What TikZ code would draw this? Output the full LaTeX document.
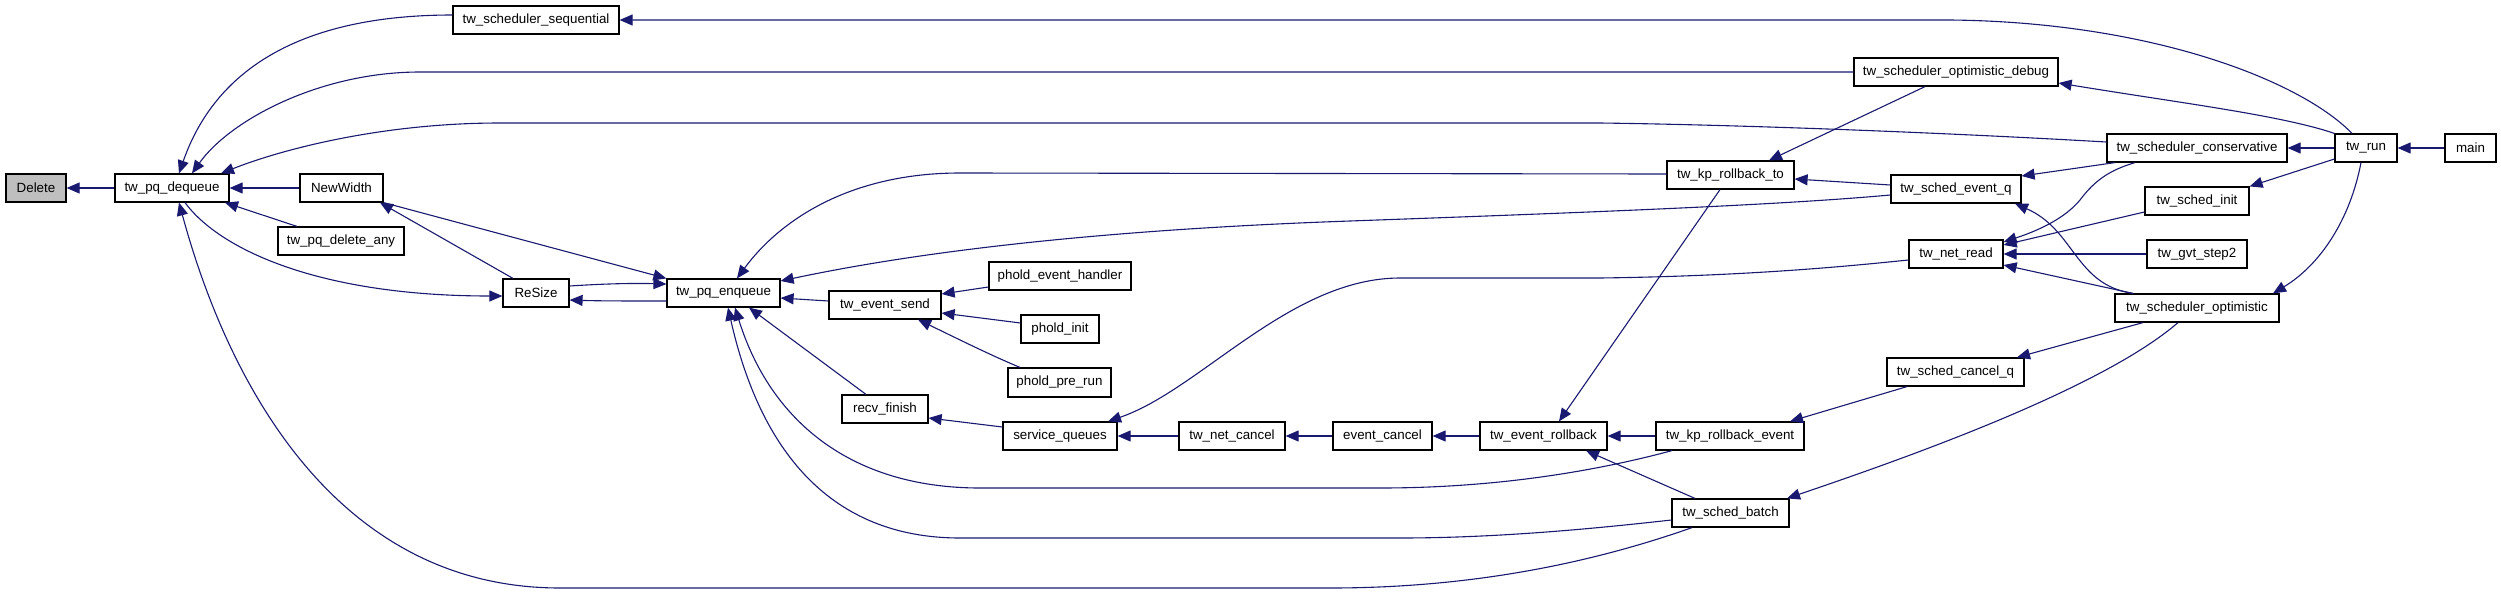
\documentclass[tikz,border=0pt]{standalone}
\usepackage{fontspec}
\setmainfont{Liberation Sans}
\usetikzlibrary{arrows.meta}
\definecolor{mblue}{HTML}{191970}
\definecolor{nodegray}{HTML}{BFBFBF}
\newcommand\fnode[6]{\node[gbox, minimum width={(#4-#2)*0.5pt}, minimum height={(#5-#3)*0.5pt}] (#1) at ({(#2+#4)/2},{(#3+#5)/2}) {#6};}
\begin{document}
\begin{tikzpicture}[x=0.5pt, y=-0.5pt,
  gbox/.style={draw=black, line width=0.6pt, fill=white, inner sep=0pt, font=\fontsize{6.67pt}{8pt}\selectfont},
  ed/.style={draw=mblue, line width=0.55pt, {Triangle[length=6.5pt,width=5.5pt]}-}]
\useasboundingbox (0,0) rectangle (2501,595);
% nodes
\fnode{del}{6}{174}{66}{202}{Delete}
\node[gbox, fill=nodegray, minimum width=30pt, minimum height=14pt] at (del) {Delete};
\fnode{dq}{115}{174}{229}{202}{tw\_pq\_dequeue}
\fnode{nw}{300}{174}{383}{202}{NewWidth}
\fnode{pda}{278}{227}{404}{255}{tw\_pq\_delete\_any}
\fnode{seq}{453}{6}{619}{34}{tw\_scheduler\_sequential}
\fnode{rs}{503}{279}{569}{307}{ReSize}
\fnode{enq}{667}{279}{780}{307}{tw\_pq\_enqueue}
\fnode{peh}{989}{262}{1131}{290}{phold\_event\_handler}
\fnode{es}{829}{291}{941}{319}{tw\_event\_send}
\fnode{pi}{1021}{315}{1099}{343}{phold\_init}
\fnode{ppr}{1008}{368}{1111}{397}{phold\_pre\_run}
\fnode{rf}{842}{395}{928}{423}{recv\_finish}
\fnode{sq}{1003}{422}{1117}{450}{service\_queues}
\fnode{nc}{1179}{422}{1285}{450}{tw\_net\_cancel}
\fnode{ec}{1333}{422}{1432}{450}{event\_cancel}
\fnode{er}{1480}{422}{1607}{450}{tw\_event\_rollback}
\fnode{kre}{1656}{422}{1804}{450}{tw\_kp\_rollback\_event}
\fnode{sb}{1672}{499}{1789}{527}{tw\_sched\_batch}
\fnode{scq}{1887}{358}{2024}{386}{tw\_sched\_cancel\_q}
\fnode{dbg}{1854}{58}{2058}{86}{tw\_scheduler\_optimistic\_debug}
\fnode{krt}{1667}{161}{1794}{189}{tw\_kp\_rollback\_to}
\fnode{evq}{1891}{175}{2021}{203}{tw\_sched\_event\_q}
\fnode{nr}{1909}{240}{2003}{268}{tw\_net\_read}
\fnode{cons}{2107}{134}{2287}{162}{tw\_scheduler\_conservative}
\fnode{run}{2335}{134}{2397}{162}{tw\_run}
\fnode{mn}{2445}{134}{2496}{162}{main}
\fnode{si}{2145}{187}{2249}{215}{tw\_sched\_init}
\fnode{gvt}{2147}{240}{2247}{268}{tw\_gvt\_step2}
\fnode{opt}{2115}{294}{2279}{322}{tw\_scheduler\_optimistic}
% edges
\draw[ed] (del.east) -- (dq.west);
\draw[ed] (dq.north -| 179,0) .. controls (215,70) and (300,15) .. (seq.west |- 0,15);
\draw[ed] (dq.north -| 192,0) .. controls (230,120) and (320,72) .. (420,72) -- (dbg.west);
\draw[ed] (dq.north -| 221,0) .. controls (280,150) and (380,123) .. (500,123) -- (1600,123) .. controls (1750,125) and (1950,133) .. (cons.west |- 0,142);
\draw[ed] (dq.east) -- (nw.west);
\draw[ed] (dq.south -| 225,0) -- (pda.north -| 297,0);
\draw[ed] (dq.south -| 179,0) .. controls (230,390) and (340,588) .. (560,588) -- (1330,588) .. controls (1480,588) and (1600,560) .. (sb.south -| 1692,0);
\draw[ed] (rs.west |- 0,296) .. controls (320,296) and (220,250) .. (dq.south -| 185,0);
\draw[ed] (nw.south -| 380,0) -- (rs.north -| 513,0);
\draw[ed] (enq.north west) -- (nw.south east);
\draw[ed] (enq.west |- 0,284) .. controls (630,283) and (600,284) .. (rs.east |- 0,286);
\draw[ed] (rs.east |- 0,300) .. controls (600,301) and (630,301) .. (enq.west |- 0,301);
\draw[ed] (enq.north -| 737,0) .. controls (780,220) and (850,173) .. (960,173) -- (krt.west |- 0,174);
\draw[ed] (enq.east |- 0,281) .. controls (950,245) and (1150,228) .. (1350,221) .. controls (1600,212) and (1780,205) .. (evq.west |- 0,195);
\draw[ed] (enq.east |- 0,298) -- (es.west |- 0,301);
\draw[ed] (enq.south -| 749,0) -- (rf.north -| 866,0);
\draw[ed] (enq.south -| 735,0) .. controls (770,420) and (850,488) .. (980,488) -- (1380,488) .. controls (1500,488) and (1600,470) .. (kre.south -| 1672,0);
\draw[ed] (enq.south -| 728,0) .. controls (760,450) and (830,538) .. (960,538) -- (1400,538) .. controls (1500,538) and (1600,528) .. (sb.west |- 0,520);
\draw[ed] (es.east |- 0,294) -- (peh.west |- 0,287);
\draw[ed] (es.east |- 0,313) -- (pi.west |- 0,323);
\draw[ed] (es.south -| 918,0) .. controls (950,335) and (990,355) .. (ppr.north -| 1020,0);
\draw[ed] (rf.east |- 0,418) -- (sq.west |- 0,427);
\draw[ed] (sq.east) -- (nc.west);
\draw[ed] (sq.north -| 1108,0) .. controls (1200,390) and (1290,278) .. (1400,278) -- (1600,278) .. controls (1750,276) and (1850,266) .. (nr.west |- 0,260);
\draw[ed] (nc.east) -- (ec.west);
\draw[ed] (ec.east) -- (er.west);
\draw[ed] (er.north -| 1559,0) -- (krt.south -| 1720,0);
\draw[ed] (er.east) -- (kre.west);
\draw[ed] (er.south -| 1586,0) -- (sb.north -| 1695,0);
\draw[ed] (krt.north -| 1769,0) -- (dbg.south -| 1925,0);
\draw[ed] (krt.east |- 0,179) -- (evq.west |- 0,185);
\draw[ed] (kre.north -| 1790,0) -- (scq.south -| 1907,0);
\draw[ed] (sb.north -| 1787,0) .. controls (1900,460) and (2100,390) .. (opt.south -| 2178,0);
\draw[ed] (scq.north -| 2017,0) -- (opt.south -| 2143,0);
\draw[ed] (evq.east |- 0,176) -- (cons.south -| 2115,0);
\draw[ed] (evq.south -| 2015,0) .. controls (2075,230) and (2075,285) .. (opt.north -| 2133,0);
\draw[ed] (nr.east |- 0,242) .. controls (2040,230) and (2065,218) .. (2080,200) .. controls (2095,180) and (2110,170) .. (cons.south -| 2135,0);
\draw[ed] (nr.east |- 0,245) -- (si.west |- 0,212);
\draw[ed] (nr.east) -- (gvt.west);
\draw[ed] (nr.east |- 0,265) -- (opt.north -| 2133,0);
\draw[ed] (seq.east |- 0,20) -- (1950,20) .. controls (2150,22) and (2300,80) .. (run.north -| 2352,0);
\draw[ed] (dbg.east |- 0,83) .. controls (2180,103) and (2280,115) .. (run.north west);
\draw[ed] (cons.east) -- (run.west);
\draw[ed] (si.north east) -- (run.west |- 0,159);
\draw[ed] (opt.north -| 2273,0) .. controls (2320,265) and (2350,220) .. (run.south -| 2361,0);
\draw[ed] (run.east) -- (mn.west);
\end{tikzpicture}
\end{document}
